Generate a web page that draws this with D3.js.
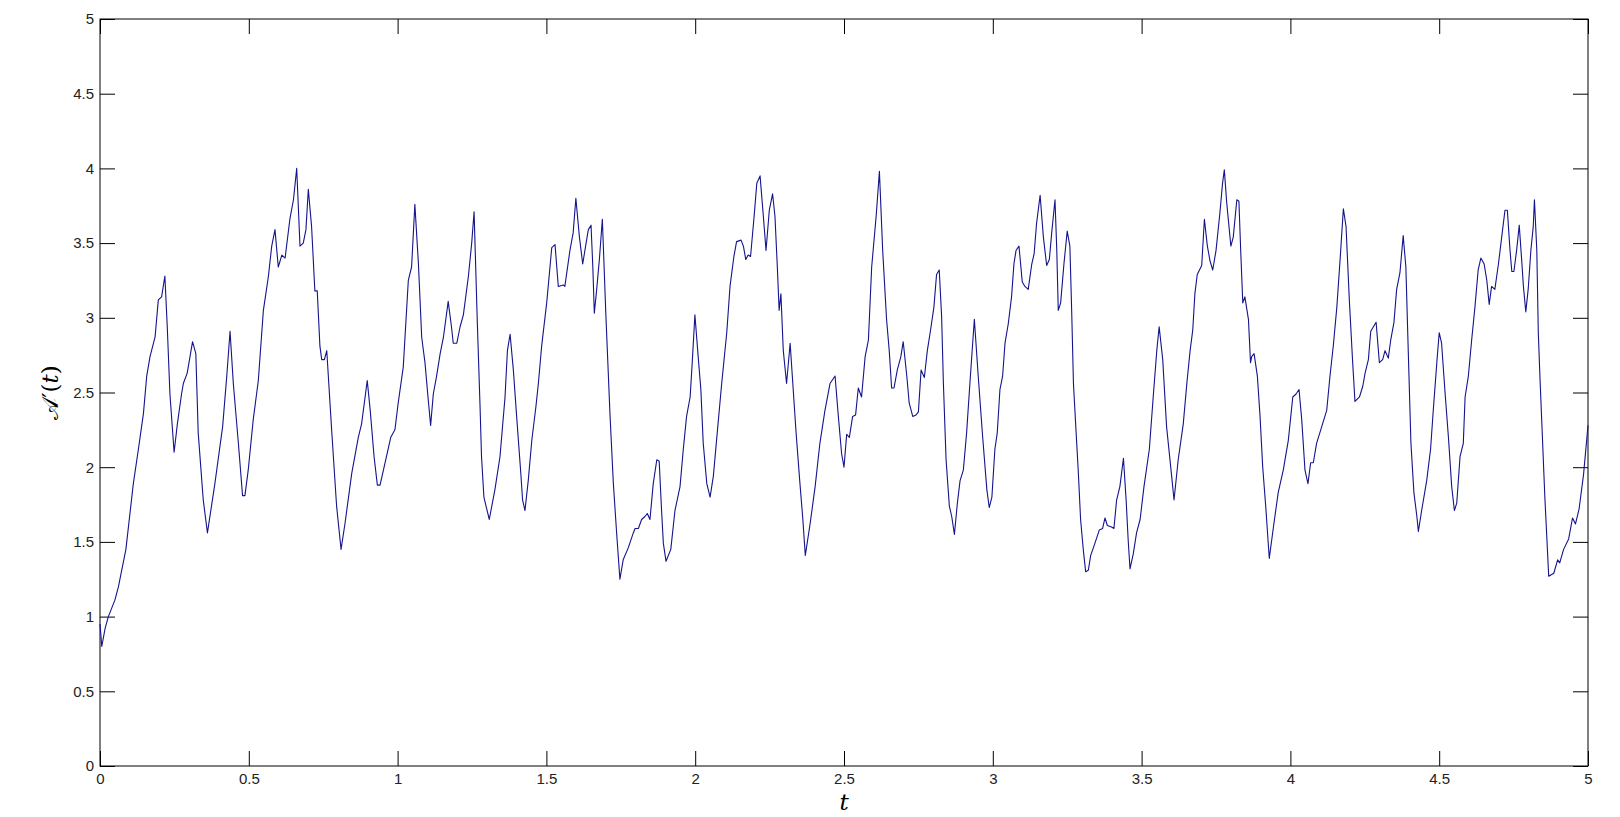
<!DOCTYPE html>
<html>
<head>
<meta charset="utf-8">
<script src="https://cdn.jsdelivr.net/npm/d3@7/dist/d3.min.js"></script>
<style>
  html, body { margin: 0; padding: 0; background: #fff; }
  svg { display: block; }
</style>
</head>
<body>
<svg id="chart" width="1620" height="817"></svg>
<script>
// ---- data ----
const tValues = [
0,0.006,0.017,0.028,0.05,0.062,0.087,0.112,0.129,0.146,0.157,0.168,0.185,0.196,0.207,0.218,0.226,0.235,0.249,0.26,
0.274,0.28,0.293,0.311,0.322,0.33,0.347,0.361,0.386,0.412,0.426,0.437,0.448,0.465,0.479,0.487,0.498,0.515,0.532,0.549,
0.566,0.577,0.588,0.599,0.611,0.622,0.638,0.65,0.661,0.672,0.683,0.692,0.70,0.711,0.722,0.73,0.739,0.745,0.754,0.762,
0.779,0.795,0.81,0.823,0.846,0.868,0.879,0.898,0.908,0.921,0.932,0.941,0.958,0.977,0.991,1.002,1.019,1.036,1.047,1.058,
1.07,1.081,1.092,1.103,1.111,1.12,1.131,1.143,1.154,1.17,1.181,1.187,1.199,1.21,1.221,1.238,1.249,1.257,1.268,1.277,
1.282,1.29,1.308,1.327,1.344,1.361,1.369,1.378,1.389,1.40,1.414,1.42,1.428,1.439,1.451,1.465,1.473,1.484,1.501,1.518,
1.529,1.54,1.557,1.562,1.579,1.59,1.599,1.611,1.622,1.635,1.641,1.65,1.656,1.661,1.669,1.678,1.688,1.70,1.714,1.725,
1.736,1.747,1.758,1.775,1.792,1.798,1.809,1.82,1.831,1.839,1.848,1.859,1.871,1.879,1.887,1.893,1.902,1.918,1.932,1.949,
1.96,1.971,1.983,1.99,1.999,2.01,2.019,2.027,2.039,2.05,2.061,2.074,2.089,2.106,2.117,2.13,2.139,2.154,2.162,2.17,
2.178,2.186,2.198,2.207,2.218,2.229,2.238,2.249,2.26,2.268,2.276,2.282,2.288,2.296,2.307,2.319,2.328,2.339,2.352,2.361,
2.37,2.386,2.403,2.419,2.436,2.453,2.47,2.481,2.492,2.50,2.509,2.518,2.529,2.539,2.548,2.559,2.571,2.582,2.593,2.608,
2.619,2.63,2.643,2.652,2.66,2.668,2.679,2.691,2.699,2.711,2.719,2.731,2.742,2.75,2.759,2.77,2.78,2.791,2.802,2.811,
2.82,2.828,2.834,2.843,2.854,2.862,2.871,2.881,2.89,2.901,2.912,2.923,2.938,2.951,2.966,2.98,2.988,2.997,3.007,3.015,
3.024,3.033,3.041,3.052,3.063,3.071,3.078,3.088,3.099,3.108,3.119,3.131,3.139,3.147,3.159,3.17,3.181,3.19,3.198,3.209,
3.215,3.22,3.228,3.239,3.25,3.259,3.265,3.271,3.28,3.287,3.295,3.304,3.312,3.321,3.329,3.343,3.358,3.369,3.377,3.385,
3.399,3.407,3.416,3.427,3.439,3.448,3.455,3.461,3.472,3.483,3.495,3.508,3.526,3.539,3.551,3.559,3.571,3.584,3.601,3.609,
3.623,3.64,3.652,3.663,3.672,3.679,3.687,3.702,3.711,3.721,3.73,3.739,3.75,3.763,3.772,3.778,3.786,3.80,3.808,3.82,
3.827,3.833,3.84,3.847,3.859,3.866,3.87,3.878,3.889,3.898,3.907,3.917,3.929,3.943,3.959,3.976,3.993,4.008,4.019,4.029,
4.038,4.049,4.059,4.068,4.077,4.088,4.105,4.122,4.133,4.144,4.156,4.167,4.178,4.187,4.198,4.209,4.217,4.232,4.243,4.251,
4.262,4.27,4.279,4.288,4.299,4.31,4.318,4.329,4.337,4.348,4.357,4.368,4.379,4.388,4.396,4.405,4.415,4.425,4.43,4.441,
4.458,4.471,4.48,4.492,4.50,4.508,4.52,4.531,4.542,4.551,4.559,4.57,4.581,4.587,4.598,4.609,4.62,4.631,4.64,4.651,
4.66,4.668,4.676,4.687,4.699,4.71,4.721,4.729,4.738,4.744,4.751,4.76,4.769,4.777,4.783,4.791,4.799,4.808,4.816,4.82,
4.828,4.833,4.839,4.855,4.868,4.885,4.898,4.905,4.918,4.935,4.948,4.958,4.97,4.985,5.0
];
const aValues = [
0.95,0.80,0.92,1.00,1.11,1.20,1.45,1.89,2.12,2.36,2.61,2.74,2.87,3.12,3.14,3.28,2.94,2.49,2.10,2.29,
2.49,2.56,2.63,2.84,2.76,2.23,1.78,1.56,1.89,2.27,2.61,2.91,2.56,2.16,1.81,1.81,1.98,2.32,2.58,3.05,
3.28,3.48,3.59,3.34,3.42,3.40,3.66,3.79,4.00,3.48,3.50,3.59,3.86,3.61,3.18,3.18,2.81,2.72,2.72,2.78,
2.23,1.74,1.45,1.62,1.96,2.20,2.29,2.58,2.38,2.07,1.88,1.88,2.03,2.20,2.25,2.43,2.67,3.25,3.34,3.76,
3.36,2.87,2.70,2.45,2.28,2.49,2.61,2.76,2.87,3.11,2.94,2.83,2.83,2.94,3.02,3.28,3.50,3.71,2.96,2.41,
2.07,1.80,1.65,1.85,2.07,2.47,2.78,2.89,2.65,2.34,1.96,1.78,1.71,1.91,2.18,2.41,2.56,2.81,3.10,3.47,
3.49,3.21,3.22,3.21,3.45,3.57,3.80,3.54,3.36,3.52,3.59,3.62,3.34,3.03,3.19,3.39,3.66,3.01,2.34,1.89,
1.56,1.25,1.38,1.46,1.56,1.59,1.59,1.65,1.67,1.69,1.65,1.89,2.05,2.04,1.71,1.49,1.37,1.45,1.71,1.87,
2.12,2.34,2.47,2.70,3.02,2.74,2.52,2.16,1.89,1.80,1.94,2.23,2.56,2.90,3.21,3.41,3.51,3.52,3.48,3.39,
3.42,3.41,3.68,3.90,3.95,3.68,3.45,3.72,3.83,3.68,3.34,3.05,3.16,2.78,2.56,2.83,2.56,2.23,1.89,1.67,
1.41,1.62,1.87,2.16,2.38,2.56,2.61,2.34,2.09,2.00,2.22,2.20,2.34,2.35,2.53,2.47,2.74,2.85,3.34,3.68,
3.98,3.45,2.99,2.78,2.53,2.53,2.65,2.74,2.84,2.61,2.43,2.34,2.35,2.37,2.65,2.60,2.78,2.92,3.07,3.29,
3.32,3.01,2.56,2.05,1.74,1.67,1.55,1.76,1.91,1.98,2.23,2.56,2.99,2.61,2.20,1.85,1.73,1.80,2.12,2.23,
2.52,2.61,2.83,2.96,3.14,3.36,3.45,3.48,3.24,3.21,3.19,3.36,3.43,3.63,3.82,3.54,3.35,3.39,3.57,3.79,
3.45,3.05,3.10,3.36,3.58,3.48,3.05,2.56,2.23,1.98,1.65,1.45,1.30,1.31,1.41,1.49,1.58,1.59,1.66,1.61,
1.60,1.59,1.78,1.87,2.06,1.78,1.51,1.32,1.42,1.56,1.65,1.87,2.12,2.47,2.78,2.94,2.72,2.27,1.94,1.78,
2.05,2.29,2.56,2.78,2.92,3.16,3.29,3.35,3.66,3.48,3.38,3.32,3.45,3.70,3.90,3.99,3.77,3.48,3.54,3.79,
3.78,3.45,3.10,3.14,2.99,2.70,2.74,2.76,2.61,2.34,2.00,1.74,1.39,1.60,1.83,1.98,2.18,2.47,2.49,2.52,
2.32,1.98,1.89,2.03,2.03,2.16,2.27,2.38,2.61,2.81,3.07,3.39,3.73,3.61,3.12,2.71,2.44,2.47,2.54,2.63,
2.72,2.91,2.94,2.97,2.70,2.72,2.78,2.73,2.85,2.97,3.19,3.30,3.55,3.34,2.78,2.16,1.83,1.67,1.57,1.71,
1.91,2.12,2.38,2.70,2.90,2.83,2.49,2.20,1.87,1.71,1.76,2.07,2.16,2.47,2.61,2.85,3.07,3.32,3.40,3.36,
3.25,3.09,3.21,3.19,3.36,3.54,3.72,3.72,3.45,3.31,3.31,3.45,3.62,3.39,3.21,3.04,3.19,3.45,3.61,3.79,
3.45,2.90,2.58,1.80,1.27,1.29,1.38,1.36,1.45,1.52,1.66,1.62,1.72,1.95,2.28
];
const xTicks = [0,0.5,1,1.5,2,2.5,3,3.5,4,4.5,5];
const yTicks = [0,0.5,1,1.5,2,2.5,3,3.5,4,4.5,5];
const xLabel = "t";

// ---- layout ----
const W = 1620, H = 817;
const m = {left: 100, top: 19, right: 32, bottom: 51};
const svg = d3.select("#chart");
const x = d3.scaleLinear().domain([0, 5]).range([m.left, W - m.right]);
const y = d3.scaleLinear().domain([0, 5]).range([H - m.bottom, m.top]);
const tick = 15;
const font = "'Liberation Sans', Arial, sans-serif";

function styleAxis(g, showText) {
  g.select(".domain").remove();
  g.selectAll(".tick line").attr("stroke", "#000").attr("stroke-width", 1);
  g.selectAll(".tick text")
    .attr("fill", "#222")
    .style("font-family", font)
    .style("font-size", "15px");
  if (!showText) g.selectAll(".tick text").remove();
}

svg.append("g").attr("transform", `translate(0,${y(0)})`)
  .call(d3.axisBottom(x).tickValues(xTicks).tickFormat(d3.format("")).tickSizeInner(-tick).tickSizeOuter(0).tickPadding(7))
  .call(g => styleAxis(g, true));
svg.append("g").attr("transform", `translate(0,${y(5)})`)
  .call(d3.axisTop(x).tickValues(xTicks).tickSizeInner(-tick).tickSizeOuter(0))
  .call(g => styleAxis(g, false));
svg.append("g").attr("transform", `translate(${x(0)},0)`)
  .call(d3.axisLeft(y).tickValues(yTicks).tickFormat(d3.format("")).tickSizeInner(-tick).tickSizeOuter(0).tickPadding(6))
  .call(g => styleAxis(g, true));
svg.append("g").attr("transform", `translate(${x(5)},0)`)
  .call(d3.axisRight(y).tickValues(yTicks).tickSizeInner(-tick).tickSizeOuter(0))
  .call(g => styleAxis(g, false));

// box
svg.append("rect")
  .attr("x", x(0)).attr("y", y(5))
  .attr("width", x(5) - x(0)).attr("height", y(0) - y(5))
  .attr("fill", "none").attr("stroke", "#000").attr("stroke-width", 1);

// line
const pts = tValues.map((t, i) => [t, aValues[i]]);
const line = d3.line().x(d => x(d[0])).y(d => y(d[1]));
svg.append("path")
  .datum(pts)
  .attr("d", line)
  .attr("fill", "none")
  .attr("stroke", "#14148c")
  .attr("stroke-width", 1.1)
  .attr("stroke-linejoin", "round");

// axis labels
svg.append("text")
  .attr("x", x(2.5)).attr("y", 810)
  .attr("text-anchor", "middle")
  .style("font-family", "'DejaVu Serif', serif")
  .style("font-style", "italic")
  .style("font-size", "23px")
  .text(xLabel);

svg.append("text")
  .attr("transform", `translate(58,${(y(0) + y(5)) / 2}) rotate(-90)`)
  .attr("text-anchor", "middle")
  .style("font-family", "'DejaVu Serif', serif")
  .style("font-size", "23px")
  .call(t => {
    t.append("tspan").text("\u{1D49C}\u2032(");
    t.append("tspan").style("font-style", "italic").text("t");
    t.append("tspan").text(")");
  });
</script>
</body>
</html>
